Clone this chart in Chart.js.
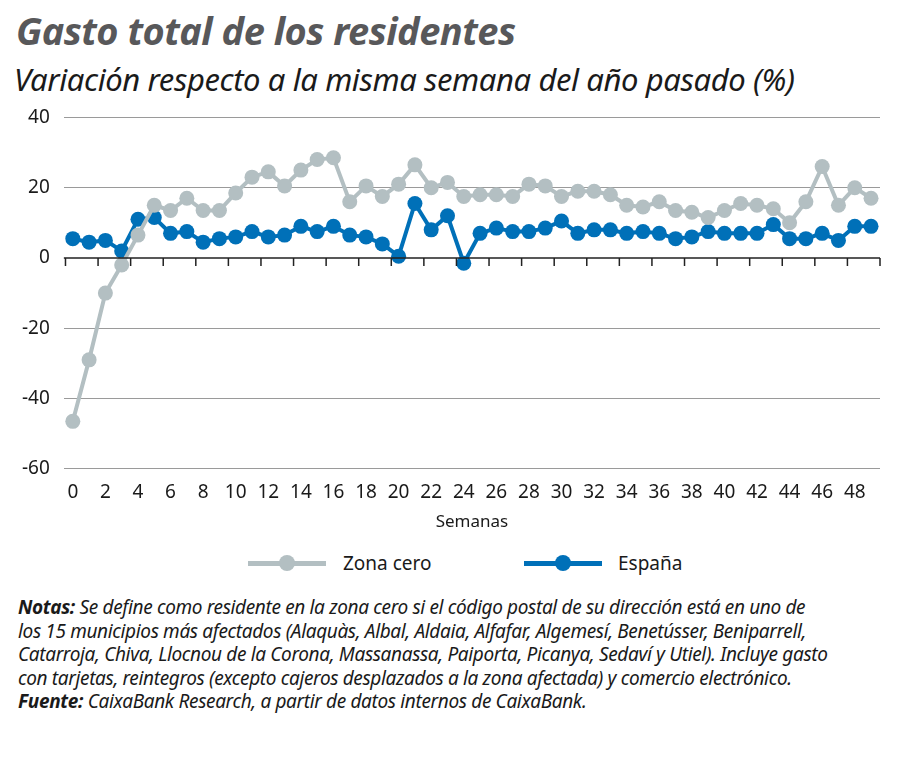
<!DOCTYPE html>
<html><head><meta charset="utf-8">
<script src="https://cdn.jsdelivr.net/npm/chart.js@4"></script>
<style>
body{margin:0;width:900px;height:759px;background:#fff;font-family:"Noto Sans",sans-serif;position:relative;overflow:hidden}
#t{position:absolute;left:16px;top:4px;font-size:38px;font-weight:bold;font-style:italic;color:#58585a;letter-spacing:-0.5px}
#s{position:absolute;left:14px;top:58px;font-size:31px;font-style:italic;color:#1a1a1a;letter-spacing:-0.4px}
#wrap{position:absolute;left:0;top:92px;width:900px;height:444px}
.lg{position:absolute;top:550px;font-size:19px;color:#1a1a1a}
.ln{position:absolute;top:561px;height:5px}
.dt{position:absolute;top:555px;width:16px;height:16px;border-radius:50%}
#n{position:absolute;left:18px;top:596px;width:885px;font-size:19px;font-style:italic;line-height:23.5px;color:#1a1a1a;letter-spacing:-0.35px;white-space:nowrap}
</style></head><body>
<div id="t">Gasto total de los residentes</div>
<div id="s">Variación respecto a la misma semana del año pasado (%)</div>
<div id="wrap"><canvas id="c"></canvas></div>
<div class="ln" style="left:248px;width:78px;background:#b3bfc2"></div><div class="dt" style="left:279px;background:#b3bfc2"></div>
<div class="lg" style="left:343px">Zona cero</div>
<div class="ln" style="left:524px;width:78px;background:#0070b8"></div><div class="dt" style="left:555px;background:#0070b8"></div>
<div class="lg" style="left:618px">España</div>
<div id="n"><b>Notas:</b> Se define como residente en la zona cero si el código postal de su dirección está en uno de<br>los 15 municipios más afectados (Alaquàs, Albal, Aldaia, Alfafar, Algemesí, Benetússer, Beniparrell,<br>Catarroja, Chiva, Llocnou de la Corona, Massanassa, Paiporta, Picanya, Sedaví y Utiel). Incluye gasto<br>con tarjetas, reintegros (excepto cajeros desplazados a la zona afectada) y comercio electrónico.<br><b>Fuente:</b> CaixaBank Research, a partir de datos internos de CaixaBank.</div>
<script>
const weeks = Array.from({length: 50}, (_, i) => i);
const zonaCero = [-46.5,-29,-10,-2,6.5,15,13.5,17,13.5,13.5,18.5,23,24.5,20.5,25,28,28.5,16,20.5,17.5,21,26.5,20,21.5,17.5,18,18,17.5,21,20.5,17.5,19,19,18,15,14.5,16,13.5,13,11.5,13.5,15.5,15,14,10,16,26,15,20,17];
const espana = [5.5,4.5,5,2,11,11.5,7,7.5,4.5,5.5,6,7.5,6,6.5,9,7.5,9,6.5,6,4,0.5,15.5,8,12,-1.5,7,8.5,7.5,7.5,8.5,10.5,7,8,8,7,7.5,7,5.5,6,7.5,7,7,7,9.5,5.5,5.5,7,5,9,9];
const yTicks = [40,20,0,-20,-40,-60];
const xTicks = weeks.filter(w => w % 2 === 0);

const zeroAxis = {
  id: 'zeroAxis',
  afterDatasetsDraw(chart) {
    const {ctx, chartArea, scales: {x, y}} = chart;
    const y0 = y.getPixelForValue(0);
    ctx.save();
    ctx.strokeStyle = '#222';
    ctx.lineWidth = 1.5;
    ctx.beginPath();
    ctx.moveTo(chartArea.left, y0); ctx.lineTo(chartArea.right, y0);
    xTicks.concat([50]).forEach(w => {
      const px = x.getPixelForValue(w - 0.45);
      ctx.moveTo(px, y0); ctx.lineTo(px, y0 + 8);
    });
    ctx.stroke();
    ctx.restore();
  }
};

function ds(label, data, color) {
  return {label, data: weeks.map((w, i) => ({x: w, y: data[i]})), borderColor: color, backgroundColor: color,
    borderWidth: 4, pointRadius: 7.5, pointHoverRadius: 7.5, pointBorderWidth: 0, tension: 0};
}

new Chart(document.getElementById('c'), {
  type: 'line',
  data: {datasets: [ds('Zona cero', zonaCero, '#b3bfc2'), ds('España', espana, '#0070b8')]},
  plugins: [zeroAxis],
  options: {
    responsive: true, maintainAspectRatio: false, animation: false,
    layout: {padding: {top: 14, right: 20, left: 8}},
    plugins: {legend: {display: false}, tooltip: {enabled: false}},
    scales: {
      x: {type: 'linear', min: -0.55, max: 49.55,
        afterBuildTicks: s => { s.ticks = xTicks.map(v => ({value: v})); },
        grid: {display: false}, border: {display: false},
        ticks: {color: '#1a1a1a', font: {size: 19, family: 'Noto Sans'}, padding: 4, maxRotation: 0, autoSkip: false},
        title: {display: true, text: 'Semanas', color: '#1a1a1a', font: {size: 17, family: 'Noto Sans'}, padding: {top: 4}}
      },
      y: {min: -60, max: 40,
        afterBuildTicks: s => { s.ticks = yTicks.map(v => ({value: v})); },
        grid: {color: ctx => ctx.tick.value === 0 ? 'rgba(0,0,0,0)' : '#9a9a9a', lineWidth: 1, drawTicks: false},
        border: {display: false},
        ticks: {color: '#1a1a1a', font: {size: 19, family: 'Noto Sans'}, padding: 14}
      }
    }
  }
});
</script>
</body></html>
